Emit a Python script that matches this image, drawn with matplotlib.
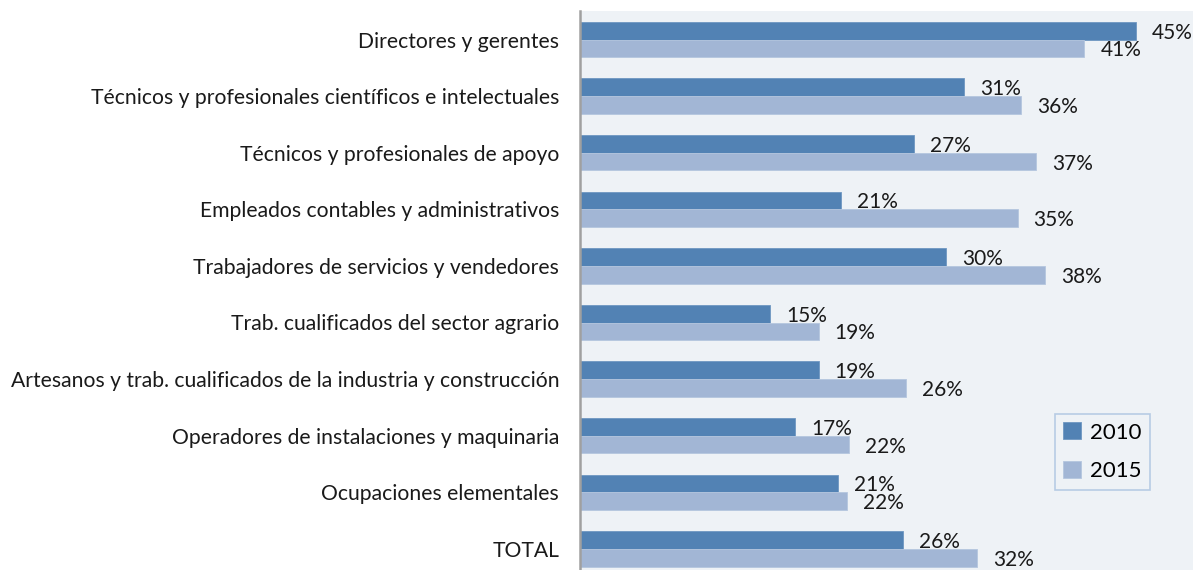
import numpy as np
import matplotlib
matplotlib.use("Agg")
import matplotlib.pyplot as plt

plt.rcParams['font.family'] = ['Lato', 'DejaVu Sans']

categories = [
    "Directores y gerentes",
    "Técnicos y profesionales científicos e intelectuales",
    "Técnicos y profesionales de apoyo",
    "Empleados contables y administrativos",
    "Trabajadores de servicios y vendedores",
    "Trab. cualificados del sector agrario",
    "Artesanos y trab. cualificados de la industria y construcción",
    "Operadores de instalaciones y maquinaria",
    "Ocupaciones elementales",
    "TOTAL",
]
# values (%)
v2010 = [45.0, 31.1, 27.0, 21.1, 29.6, 15.4, 19.3, 17.4, 20.9, 26.1]
v2015 = [40.8, 35.7, 36.9, 35.4, 37.6, 19.3, 26.4, 21.8, 21.6, 32.1]

c2010 = "#5282B4"
c2015 = "#A2B6D5"
bg = "#EEF2F6"

fig = plt.figure(figsize=(11.93, 5.70), dpi=100)
ax = fig.add_axes([580 / 1193, -7.2 / 570, 613 / 1193, 566 / 570])
ax.set_facecolor(bg)

y = np.arange(len(categories))
h = 0.313
ax.barh(y - h / 2, v2010, height=h, color=c2010, edgecolor="#6F97C2", linewidth=0.6, label="2010")
ax.barh(y + h / 2, v2015, height=h, color=c2015, edgecolor="#B5C6DF", linewidth=0.6, label="2015")

xmax = 49.6
ax.set_xlim(0, xmax)
ax.set_ylim(len(categories) - 0.5, -0.5)

for yy, v in zip(y, v2010):
    xpos = min(v + 1.3, 46.3)
    ax.annotate(f"{v:.0f}%", (xpos, yy - h / 2), xytext=(0, -2), textcoords="offset pixels",
                va="center", ha="left", fontsize=15, color="#1a1a1a")
for yy, v in zip(y, v2015):
    ax.annotate(f"{v:.0f}%", (v + 1.3, yy + h / 2), xytext=(0, -2), textcoords="offset pixels",
                va="center", ha="left", fontsize=15, color="#1a1a1a")

ax.set_yticks(y)
ax.set_yticklabels(categories, fontsize=15.2, color="#1a1a1a")
ax.tick_params(axis="y", length=0, pad=15)
ax.set_xticks([])

for s in ["top", "right", "bottom"]:
    ax.spines[s].set_visible(False)
ax.spines["left"].set_color("#A0A0A0")
ax.spines["left"].set_linewidth(1.8)

leg = ax.legend(loc="upper left", bbox_to_anchor=(1055 / 1193, 1 - 414 / 570),
                bbox_transform=fig.transFigure, fontsize=16, frameon=True,
                fancybox=False, handlelength=0.8, handleheight=0.8,
                labelspacing=0.82, handletextpad=0.4, borderpad=0.38, borderaxespad=0)
leg.get_frame().set_edgecolor("#A9C2E0")
leg.get_frame().set_facecolor(bg)
leg.get_frame().set_linewidth(1.2)

fig.savefig("out.png", dpi=100)
